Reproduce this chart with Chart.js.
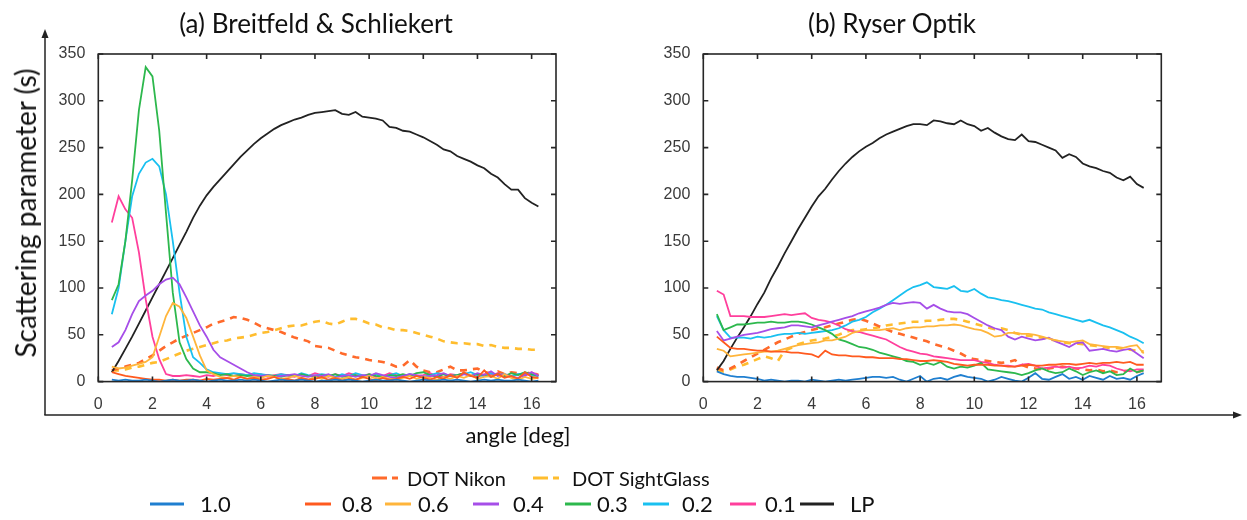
<!DOCTYPE html>
<html>
<head>
<meta charset="utf-8">
<script src="https://cdn.jsdelivr.net/npm/chart.js@4.4.1/dist/chart.umd.min.js"></script>
<style>
  html, body { margin: 0; padding: 0; background: #fff; }
  #page { position: relative; width: 1247px; height: 520px; overflow: hidden; font-family: Lato, "Open Sans", sans-serif; color: #111; }
  #page canvas { position: absolute; left: 0; top: 0; }
  #page svg { position: absolute; left: 0; top: 0; }
  .txt { position: absolute; white-space: nowrap; line-height: 1; }
  .title { font-size: 26px; transform: translate(-50%, -50%); }
  .leg { position: absolute; white-space: nowrap; line-height: 1; transform: translateY(-50%); }
</style>
</head>
<body>
<div id="page">
  <svg id="frame" width="1247" height="520"></svg>
  <canvas id="chartA" width="1247" height="520"></canvas>
  <canvas id="chartB" width="1247" height="520"></canvas>
  <div class="txt title" style="left:316px; top:23px;">(a) Breitfeld &amp; Schliekert</div>
  <div class="txt title" style="left:892px; top:23px;">(b) Ryser Optik</div>
  <div class="txt" style="left:25px; top:213px; font-size:28px; transform:translate(-50%,-50%) rotate(-90deg);">Scattering parameter (s)</div>
  <div class="txt" style="left:518px; top:435px; font-size:22px; transform:translate(-50%,-50%);">angle [deg]</div>
  <div id="legend"></div>
</div>
<script>
// eje x: ángulo en grados
const angles = [0.5, 0.75, 1, 1.25, 1.5, 1.75, 2, 2.25, 2.5, 2.75, 3, 3.25, 3.5, 3.75, 4, 4.25,
  4.5, 4.75, 5, 5.25, 5.5, 5.75, 6, 6.25, 6.5, 6.75, 7, 7.25, 7.5, 7.75, 8, 8.25,
  8.5, 8.75, 9, 9.25, 9.5, 9.75, 10, 10.25, 10.5, 10.75, 11, 11.25, 11.5, 11.75, 12, 12.25,
  12.5, 12.75, 13, 13.25, 13.5, 13.75, 14, 14.25, 14.5, 14.75, 15, 15.25, 15.5, 15.75, 16, 16.25];

const xTicks = [0, 2, 4, 6, 8, 10, 12, 14, 16];
const yTicks = [0, 50, 100, 150, 200, 250, 300, 350];

const seriesLabels = ['1.0', '0.8', '0.6', '0.4', '0.3', '0.2', '0.1', 'LP'];
const dotLabels = ['DOT Nikon', 'DOT SightGlass'];

// (a) Breitfeld & Schliekert
const a_10 = [2, 1, 2, 1, 1, 2, 1, 0, 1, 2, 1, 1, 2, 1, 0, 1, 2, 1, 1, 2, 1, 2, 1, 0, 1, 2, 1, 1, 2, 1, 0, 1,
  1, 2, 1, 2, 1, 0, 1, 2, 1, 1, 2, 1, 0, 1, 2, 1, 1, 2, 1, 2, 1, 0, 1, 2, 1, 2, 1, 1, 2, 1, 0, 1];
const a_08 = [10, 8, 6, 5, 4, 3, 2, 2, 1, 2, 1, 2, 2, 1, 3, 2, 3, 4, 2, 5, 3, 4, 2, 3, 5, 2, 3, 1, 4, 2, 3, 5,
  2, 4, 1, 3, 2, 5, 3, 1, 4, 2, 3, 5, 3, 6, 4, 2, 5, 3, 7, 4, 10, 6, 4, 12, 5, 8, 4, 6, 3, 10, 5, 4];
const a_06 = [16, 14, 15, 17, 19, 21, 26, 48, 70, 84, 80, 68, 48, 28, 12, 8, 5, 4, 6, 5, 3, 5, 4, 6, 5, 3, 4, 6, 4, 2, 5, 3,
  6, 4, 3, 5, 2, 4, 6, 3, 5, 3, 2, 4, 6, 3, 5, 4, 2, 5, 3, 6, 4, 7, 3, 5, 6, 3, 8, 4, 2, 5, 3, 4];
const a_04 = [37, 42, 55, 72, 86, 92, 97, 104, 109, 111, 104, 90, 75, 60, 48, 34, 26, 22, 18, 14, 10, 7, 6, 7, 5, 6, 7, 8, 6, 5, 7, 6,
  8, 4, 6, 7, 5, 7, 6, 9, 7, 5, 4, 6, 8, 7, 5, 6, 7, 9, 6, 5, 8, 6, 9, 7, 11, 6, 8, 5, 4, 7, 10, 6];
const a_03 = [87, 104, 150, 215, 290, 336, 326, 268, 180, 95, 42, 24, 14, 10, 10, 9, 7, 8, 6, 7, 6, 7, 5, 7, 6, 5, 7, 6, 8, 6, 5, 7,
  6, 8, 5, 6, 7, 5, 8, 6, 5, 7, 6, 8, 6, 9, 10, 7, 5, 8, 6, 7, 9, 6, 8, 7, 5, 8, 6, 9, 7, 10, 8, 6];
const a_02 = [72, 100, 150, 198, 222, 234, 238, 230, 200, 150, 95, 48, 26, 20, 13, 10, 9, 8, 9, 8, 7, 9, 8, 7, 6, 8, 7, 6, 9, 7, 6, 8,
  7, 5, 8, 6, 9, 7, 6, 8, 5, 7, 9, 6, 8, 6, 5, 7, 9, 8, 6, 7, 8, 10, 7, 6, 9, 7, 8, 6, 8, 9, 7, 6];
const a_01 = [170, 198, 184, 175, 138, 88, 48, 24, 8, 6, 6, 7, 6, 5, 7, 6, 8, 7, 6, 8, 7, 6, 8, 5, 7, 8, 6, 5, 8, 6, 9, 7,
  5, 8, 6, 9, 7, 6, 8, 5, 6, 9, 7, 5, 8, 6, 7, 9, 6, 5, 8, 7, 9, 6, 5, 8, 7, 9, 6, 5, 8, 6, 10, 7];
const a_lp = [10, 22, 35, 48, 62, 76, 90, 104, 118, 132, 146, 160, 175, 188, 199, 208, 216, 224, 232, 240, 247, 254, 260, 265, 270, 274, 277, 280, 282, 285, 287, 288,
  289, 290, 286, 285, 288, 283, 282, 281, 279, 272, 271, 268, 267, 264, 261, 257, 253, 248, 246, 241, 238, 235, 231, 228, 222, 218, 211, 205, 205, 196, 191, 187];
const a_nikon = [12, 14, 16, 18, 20, 24, 28, 33, 38, 42, 46, 49, 52, 55, 58, 62, 64, 66, 69, 68, 66, 63, 59, 57, 55, 53, 50, 47, 45, 43, 38, 37,
  36, 33, 30, 28, 26, 25, 23, 22, 21, 19, 16, 17, 23, 16, 12, 10, 10, 13, 16, 12, 12, 13, 14, 10, 9, 11, 8, 10, 9, 8, 10, 7];
const a_sight = [12, 12, 13, 15, 16, 18, 20, 21, 24, 27, 30, 33, 35, 37, 39, 41, 43, 44, 46, 47, 48, 50, 52, 53, 55, 57, 59, 60, 60, 62, 64, 65,
  62, 61, 64, 67, 67, 65, 62, 61, 58, 57, 55, 55, 54, 52, 50, 48, 46, 43, 42, 41, 41, 40, 40, 38, 39, 37, 36, 36, 35, 35, 34, 34];

// (b) Ryser Optik
const b_10 = [11, 8, 6, 5, 5, 4, 3, 1, 2, 1, 0, 1, 1, 0, 2, 1, 0, 1, 2, 1, 2, 3, 4, 5, 5, 4, 5, 2, 0, 3, 6, 0,
  3, 4, 2, 5, 7, 5, 4, 3, 0, 2, 5, 3, 1, 0, 4, 9, 3, 2, 5, 8, 3, 5, 2, 6, 4, 2, 6, 3, 4, 2, 6, 9];
const b_08 = [48, 42, 36, 35, 35, 34, 33, 33, 32, 32, 32, 31, 31, 30, 29, 26, 33, 29, 28, 28, 27, 27, 26, 26, 25, 25, 25, 24, 24, 23, 22, 22,
  23, 22, 21, 19, 18, 17, 18, 18, 18, 17, 17, 16, 16, 17, 18, 17, 17, 18, 18, 19, 19, 18, 19, 20, 19, 20, 20, 21, 20, 21, 18, 18];
const b_06 = [35, 33, 27, 28, 29, 30, 31, 32, 32, 33, 35, 37, 39, 40, 41, 42, 44, 44, 46, 48, 52, 54, 55, 55, 55, 56, 57, 55, 57, 58, 58, 59,
  59, 60, 60, 61, 60, 58, 56, 55, 52, 48, 49, 52, 52, 51, 51, 50, 48, 46, 44, 43, 42, 43, 44, 40, 39, 38, 37, 37, 36, 38, 39, 30];
const b_04 = [54, 44, 46, 48, 50, 51, 52, 54, 56, 57, 58, 60, 60, 59, 58, 60, 62, 64, 66, 68, 70, 73, 75, 77, 79, 82, 84, 83, 84, 85, 84, 78,
  82, 78, 75, 74, 74, 72, 68, 64, 60, 57, 55, 48, 45, 48, 46, 44, 45, 47, 43, 40, 37, 41, 42, 33, 34, 35, 33, 32, 34, 35, 30, 25];
const b_03 = [72, 55, 58, 61, 61, 62, 63, 63, 64, 63, 63, 64, 64, 63, 61, 58, 55, 51, 45, 43, 40, 37, 36, 34, 31, 29, 27, 25, 22, 21, 18, 20,
  18, 21, 16, 14, 16, 15, 17, 20, 13, 12, 11, 10, 9, 7, 9, 12, 14, 11, 9, 10, 14, 11, 7, 10, 12, 9, 11, 7, 8, 14, 10, 12];
const b_02 = [70, 55, 47, 47, 47, 46, 48, 47, 48, 50, 51, 51, 52, 51, 52, 53, 54, 55, 57, 60, 64, 66, 69, 74, 78, 82, 87, 92, 97, 101, 103, 106,
  101, 100, 99, 102, 97, 96, 99, 94, 90, 89, 87, 86, 84, 82, 80, 78, 77, 74, 72, 70, 68, 66, 64, 66, 63, 60, 58, 55, 52, 48, 45, 41];
const b_01 = [97, 93, 70, 70, 70, 69, 69, 69, 70, 71, 72, 71, 72, 73, 68, 66, 65, 63, 60, 56, 54, 53, 51, 49, 47, 45, 41, 37, 34, 32, 30, 29,
  27, 26, 25, 24, 23, 23, 23, 21, 20, 18, 17, 17, 16, 18, 19, 17, 14, 15, 16, 15, 16, 14, 15, 17, 16, 18, 17, 14, 12, 11, 13, 13];
const b_lp = [12, 22, 35, 47, 58, 70, 83, 95, 110, 123, 137, 150, 163, 175, 187, 198, 206, 216, 225, 233, 240, 246, 251, 255, 260, 264, 267, 270, 273, 275, 275, 274,
  279, 278, 276, 275, 279, 275, 273, 268, 271, 266, 262, 259, 258, 264, 257, 256, 253, 250, 247, 239, 243, 240, 233, 230, 228, 225, 223, 218, 215, 219, 211, 207];
const b_nikon = [15, 12, 14, 18, 22, 26, 30, 34, 38, 42, 45, 48, 51, 53, 55, 57, 58, 60, 62, 64, 66, 67, 65, 62, 59, 56, 53, 51, 49, 47, 45, 43,
  40, 38, 36, 33, 30, 26, 24, 23, 22, 21, 20, 21, 23, 18, 15, 14, 13, 14, 15, 16, 15, 14, 13, 12, 13, 11, 12, 10, 11, 12, 10, 12];
const b_sight = [12, 11, 13, 16, 18, 21, 24, 27, 25, 22, 33, 36, 40, 42, 44, 45, 46, 48, 50, 53, 55, 55, 56, 57, 58, 60, 61, 62, 63, 64, 64, 65,
  65, 66, 67, 67, 66, 64, 62, 60, 58, 56, 57, 55, 52, 50, 49, 48, 47, 45, 44, 42, 41, 41, 40, 39, 38, 37, 36, 36, 35, 34, 33, 32];

const seriesColors = ['#1f7fd0', '#ff5a1f', '#ffb53b', '#a64ee8', '#2db84d', '#19c0f0', '#ff3f9c', '#222222'];
const dotColors = ['#ff6a2b', '#ffbd2e'];

function toPoints(vals) {
  return vals.map((v, i) => ({ x: angles[i], y: v }));
}

function buildDatasets(solid, nikon, sight) {
  const sets = solid.map((vals, i) => ({
    label: seriesLabels[i],
    data: toPoints(vals),
    borderColor: seriesColors[i],
    borderWidth: 1.8,
    pointRadius: 0,
    tension: 0
  }));
  sets.push({ label: dotLabels[0], data: toPoints(nikon), borderColor: dotColors[0], borderWidth: 2.6, borderDash: [7, 6], pointRadius: 0 });
  sets.push({ label: dotLabels[1], data: toPoints(sight), borderColor: dotColors[1], borderWidth: 2.6, borderDash: [7, 6], pointRadius: 0 });
  return sets;
}

// marco tipo MATLAB con marcas hacia adentro en los cuatro lados
const boxPlugin = {
  id: 'box',
  afterDatasetsDraw(chart) {
    const { ctx, chartArea: ca, scales } = chart;
    ctx.save();
    ctx.strokeStyle = '#262626';
    ctx.lineWidth = 1.6;
    ctx.strokeRect(ca.left, ca.top, ca.right - ca.left, ca.bottom - ca.top);
    ctx.beginPath();
    scales.x.ticks.forEach(t => {
      const px = scales.x.getPixelForValue(t.value);
      ctx.moveTo(px, ca.bottom); ctx.lineTo(px, ca.bottom - 5);
      ctx.moveTo(px, ca.top); ctx.lineTo(px, ca.top + 5);
    });
    scales.y.ticks.forEach(t => {
      const py = scales.y.getPixelForValue(t.value);
      ctx.moveTo(ca.left, py); ctx.lineTo(ca.left + 5, py);
      ctx.moveTo(ca.right, py); ctx.lineTo(ca.right - 5, py);
    });
    ctx.stroke();
    ctx.restore();
  }
};

const tickFont = { family: 'Liberation Sans', size: 16 };

function makeChart(id, datasets, pad) {
  return new Chart(document.getElementById(id).getContext('2d'), {
    type: 'line',
    data: { datasets: datasets },
    options: {
      responsive: false,
      animation: false,
      layout: { padding: pad },
      plugins: { legend: { display: false }, tooltip: { enabled: false } },
      scales: {
        x: {
          type: 'linear', min: 0, max: 16.9,
          afterFit: s => { s.height = 30; },
          afterBuildTicks: s => { s.ticks = xTicks.map(v => ({ value: v })); },
          grid: { display: false },
          border: { display: false },
          ticks: { color: '#3a3a3a', font: tickFont, padding: 5, maxRotation: 0, autoSkip: false }
        },
        y: {
          min: 0, max: 350,
          afterFit: s => { s.width = 50; },
          afterBuildTicks: s => { s.ticks = yTicks.map(v => ({ value: v })); },
          grid: { display: false },
          border: { display: false },
          ticks: { color: '#3a3a3a', font: tickFont, padding: 5 }
        }
      }
    },
    plugins: [boxPlugin]
  });
}

makeChart('chartA',
  buildDatasets([a_10, a_08, a_06, a_04, a_03, a_02, a_01, a_lp], a_nikon, a_sight),
  { left: 48.3, top: 54, right: 691, bottom: 108.4 });
makeChart('chartB',
  buildDatasets([b_10, b_08, b_06, b_04, b_03, b_02, b_01, b_lp], b_nikon, b_sight),
  { left: 653.3, top: 54, right: 85.7, bottom: 108.4 });

// ejes exteriores con flechas
const svg = document.getElementById('frame');
svg.innerHTML =
  '<line x1="45" y1="34" x2="45" y2="415" stroke="#222" stroke-width="1.5"/>' +
  '<polygon points="45,29 41.5,38 48.5,38" fill="#222"/>' +
  '<line x1="44.3" y1="415" x2="1236" y2="415" stroke="#222" stroke-width="1.5"/>' +
  '<polygon points="1242,415 1233,411.5 1233,418.5" fill="#222"/>';

// leyenda
const legendRows = [
  { labels: dotLabels, colors: dotColors, dashed: true, y: 478, size: 20,
    sym: [372, 533], text: [407, 572] },
  { labels: seriesLabels, colors: seriesColors, dashed: false, y: 504, size: 22,
    sym: [150, 305, 385, 473, 565, 643, 730, 800], text: [200, 342, 418, 513, 597, 682, 765, 850] }
];
const legend = document.getElementById('legend');
legendRows.forEach(row => {
  row.labels.forEach((lab, i) => {
    const w = row.dashed ? 26 : (i === 0 || i === 7 ? 34 : 26);
    const s = document.createElementNS('http://www.w3.org/2000/svg', 'svg');
    s.setAttribute('width', w + 2);
    s.setAttribute('height', 8);
    s.style.left = row.sym[i] + 'px';
    s.style.top = (row.y - 4) + 'px';
    const ln = document.createElementNS('http://www.w3.org/2000/svg', 'line');
    ln.setAttribute('x1', 0); ln.setAttribute('y1', 4);
    ln.setAttribute('x2', w); ln.setAttribute('y2', 4);
    ln.setAttribute('stroke', row.colors[i]);
    ln.setAttribute('stroke-width', 3);
    if (row.dashed) ln.setAttribute('stroke-dasharray', '15 5');
    s.appendChild(ln);
    document.getElementById('page').appendChild(s);
    const t = document.createElement('div');
    t.className = 'leg';
    t.textContent = lab;
    t.style.left = row.text[i] + 'px';
    t.style.top = row.y + 'px';
    t.style.fontSize = row.size + 'px';
    document.getElementById('page').appendChild(t);
  });
});
</script>
</body>
</html>
